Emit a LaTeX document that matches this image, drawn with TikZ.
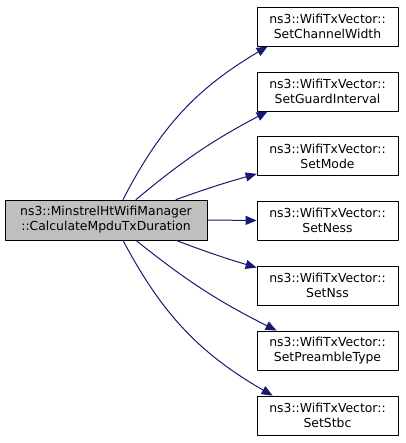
\documentclass[tikz,border=0pt]{standalone}
\usepackage{fontspec}
\setmainfont{DejaVu Sans}
\usetikzlibrary{arrows.meta}
\definecolor{edgeblue}{RGB}{25,25,112}
\begin{document}
\begin{tikzpicture}[line cap=round, line join=round, x=1pt, y=-1pt,
    fnbox/.style={draw=black, line width=0.8pt, fill=white, minimum width=141pt, minimum height=39pt,
        inner sep=0pt, align=center, font=\fontsize{12.4}{15}\selectfont},
    callee/.style={draw=edgeblue, line width=1pt, -{Triangle[length=11pt,width=9pt]}}]

            \useasboundingbox (0,0) rectangle (405,443);

            \node[fnbox, fill={rgb,255:red,191;green,191;blue,191}, minimum width=202pt, minimum height=40pt] (calc) at (106,220)
                {ns3::MinstrelHtWifiManager\\::CalculateMpduTxDuration};

            \node[fnbox] (width)    at (327.5,26.5)  {ns3::WifiTxVector::\\SetChannelWidth};
            \node[fnbox] (guard)    at (327.5,91.5)  {ns3::WifiTxVector::\\SetGuardInterval};
            \node[fnbox] (mode)     at (327.5,156)   {ns3::WifiTxVector::\\SetMode};
            \node[fnbox] (ness)     at (327.5,220.5) {ns3::WifiTxVector::\\SetNess};
            \node[fnbox] (nss)      at (327.5,285.5) {ns3::WifiTxVector::\\SetNss};
            \node[fnbox] (preamble) at (327.5,350.5) {ns3::WifiTxVector::\\SetPreambleType};
            \node[fnbox] (stbc)     at (327.5,415.5) {ns3::WifiTxVector::\\SetStbc};

            \draw[callee] ([xshift=17pt]calc.north) to[bend left=16] ([xshift=11pt]width.south west);
            \draw[callee] ([xshift=30pt]calc.north) to[bend left=6] ([xshift=11pt]guard.south west);
            \draw[callee] ([xshift=70pt]calc.north) to[bend left=2] ([yshift=2pt]mode.south west);
            \draw[callee] (calc.east) -- (ness.west);
            \draw[callee] ([xshift=70pt]calc.south) to[bend right=2] ([yshift=-2pt]nss.north west);
            \draw[callee] ([xshift=30pt]calc.south) to[bend right=6] ([xshift=20pt]preamble.north west);
            \draw[callee] ([xshift=17pt]calc.south) to[bend right=16] ([xshift=16pt]stbc.north west);

        \end{tikzpicture}
\end{document}
